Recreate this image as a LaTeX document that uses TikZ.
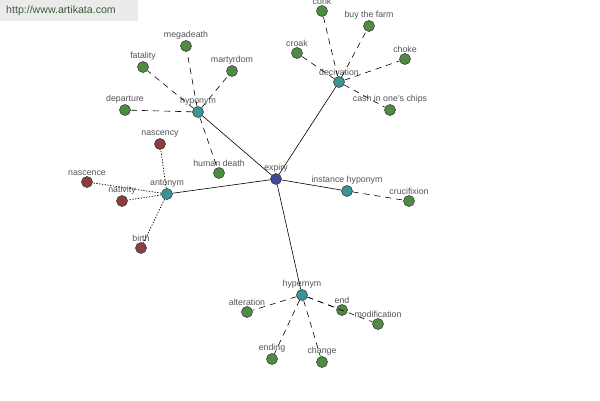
\documentclass[tikz,border=0pt]{standalone}
\usepackage{fontspec}
\setmainfont{Liberation Sans}
\definecolor{leafgreen}{RGB}{78,140,66}
\definecolor{relteal}{RGB}{58,150,150}
\definecolor{antred}{RGB}{140,62,62}
\definecolor{rootblue}{RGB}{62,74,150}
\definecolor{labgray}{RGB}{85,85,85}
\tikzset{
  dot/.style={circle,draw=black!75,line width=0.6pt,minimum size=11pt,inner sep=0pt},
  leaf/.style={dot,fill=leafgreen},
  opp/.style={dot,fill=antred},
  rel/.style={dot,fill=relteal},
  root/.style={dot,fill=rootblue},
  dashline/.style={dash pattern=on 6pt off 5pt,line width=0.6pt},
  dotline/.style={dash pattern=on 1.3pt off 1.5pt,line width=0.7pt},
  every label/.style={text=labgray,font=\fontsize{8.8}{9}\selectfont,inner sep=0.3pt,label distance=0.5pt}
}
\begin{document}
\begin{tikzpicture}[x=1pt,y=-1pt]
    \useasboundingbox (0,0) rectangle (600,400);
    \clip (0,0) rectangle (600,400);
    \fill[white] (0,0) rectangle (600,400);
    \fill[black!8] (0,0) rectangle (138,21);
    \node (site) at (61,11) {\fontsize{10.6}{11}\selectfont\color[RGB]{60,90,60}http://www.artikata.com};

    % centre and relation nodes
    \node[root,label=above:expiry] (expiry) at (276,179) {};
    \node[rel,label=above:hyponym] (hypo) at (198,112) {};
    \node[rel,label=above:antonym] (anto) at (167,194) {};
    \node[rel,label=above:decivation] (deci) at (339,82) {};
    \node[rel,label=above:instance hyponym] (inst) at (347,191) {};
    \node[rel,label=above:hypernym] (hyper) at (302,295) {};

    \foreach \r in {hypo,anto,deci,inst,hyper}
    {
        \draw[line width=0.6pt] (expiry)--(\r);
    }

    % hyponym
    \foreach \n/\x/\y/\t in {fat/143/67/fatality,mega/186/46/megadeath,mart/232/71/martyrdom,dep/125/110/departure,hum/219/173/human death}
    {
        \node[leaf,label=above:\t] (\n) at (\x,\y) {};
        \draw[dashline] (hypo)--(\n);
    }

    % antonym
    \foreach \n/\x/\y/\t in {nasy/160/144/nascency,nase/87/182/nascence,nat/122/201/nativity,birth/141/248/birth}
    {
        \node[opp,label=above:\t] (\n) at (\x,\y) {};
        \draw[dotline] (anto)--(\n);
    }

    % decivation
    \foreach \n/\x/\y/\t in {conk/322/11/conk,farm/369/26/buy the farm,croak/297/53/croak,choke/405/59/choke,cash/390/110/cash in one's chips}
    {
        \node[leaf,label=above:\t] (\n) at (\x,\y) {};
        \draw[dashline] (deci)--(\n);
    }

    % instance hyponym
    \node[leaf,label=above:crucifixion] (cruc) at (409,201) {};
    \draw[dashline] (inst)--(cruc);

    % hypernym
    \foreach \n/\x/\y/\t in {alt/247/312/alteration,end/342/310/end,mod/378/324/modification,ending/272/359/ending,chg/322/362/change}
    {
        \node[leaf,label=above:\t] (\n) at (\x,\y) {};
        \draw[dashline] (hyper)--(\n);
    }
\end{tikzpicture}
\end{document}
